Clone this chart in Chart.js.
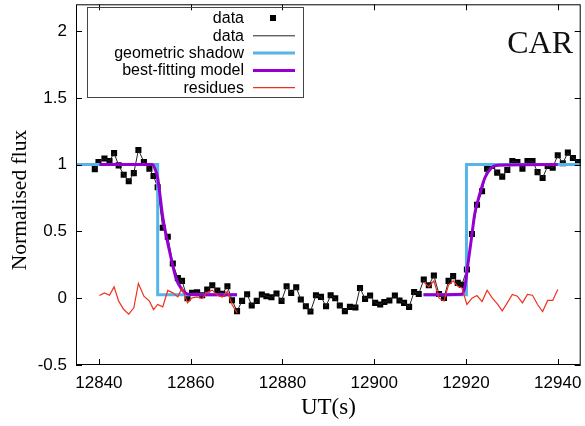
<!DOCTYPE html>
<html>
<head>
<meta charset="utf-8">
<script src="https://cdn.jsdelivr.net/npm/chart.js@4.4.1/dist/chart.umd.min.js"></script>
<style>
  html, body { margin: 0; padding: 0; background: #fff; }
  #wrap { width: 585px; height: 426px; }
</style>
</head>
<body>
<div id="wrap"><canvas id="lc" width="585" height="426"></canvas></div>
<script>
// measured light curve
const obsTime = [12839.1, 12839.9, 12841.2, 12842.3, 12843.3, 12844.3, 12845.4, 12846.5, 12847.6, 12848.6,
  12849.8, 12851.0, 12851.9, 12852.8, 12853.9, 12855.0, 12856.1, 12857.2, 12858.1, 12859.3,
  12860.3, 12861.4, 12862.5, 12863.6, 12864.7, 12865.8, 12866.9, 12868.0, 12869.0, 12870.1,
  12871.2, 12872.3, 12873.3, 12874.4, 12875.5, 12876.5, 12877.6, 12878.7, 12879.8, 12880.9,
  12881.9, 12883.0, 12884.0, 12885.1, 12886.1, 12887.3, 12888.4, 12889.5, 12890.5, 12891.5,
  12892.5, 12893.6, 12894.7, 12895.9, 12896.9, 12898.0, 12899.1, 12900.2, 12901.3, 12902.2,
  12903.3, 12904.5, 12905.5, 12906.5, 12907.6, 12908.7, 12909.7, 12910.8, 12911.9, 12913.0,
  12914.1, 12915.2, 12916.2, 12917.2, 12918.2, 12919.1, 12920.2, 12921.3, 12922.4, 12923.5,
  12924.6, 12925.7, 12926.8, 12927.9, 12929.0, 12930.1, 12931.2, 12932.3, 12933.4, 12934.5,
  12935.6, 12936.7, 12937.8, 12938.9, 12940.0, 12941.1, 12942.2, 12943.3, 12944.4];
const obsFlux = [0.966, 1.02, 1.046, 1.026, 1.086, 0.994, 0.924, 0.876, 0.936, 1.11,
  1.02, 0.97, 0.915, 0.83, 0.527, 0.46, 0.26, 0.15, 0.13, 0.0,
  0.04, 0.045, 0.022, 0.065, 0.097, 0.058, 0.033, 0.09, -0.015, -0.097,
  -0.02, 0.03, -0.055, -0.02, 0.028, 0.015, 0.007, 0.035, -0.02, 0.09,
  0.04, 0.082, -0.01, -0.06, -0.1, 0.022, 0.01, -0.06, 0.022, 0.0,
  -0.055, -0.097, -0.065, -0.07, 0.077, -0.005, 0.02, -0.035, -0.047, -0.028,
  -0.017, 0.02, -0.017, -0.035, -0.065, 0.047, 0.032, 0.14, 0.097, 0.17,
  0.032, 0.002, 0.13, 0.165, 0.115, 0.1, 0.215, 0.48, 0.7, 0.8,
  0.97, 0.99, 0.94, 0.91, 0.96, 1.026, 1.02, 0.97, 1.026, 1.026,
  0.944, 0.9, 0.99, 0.976, 1.07, 1.01, 1.09, 1.05, 1.02];

// geometric shadow (null breaks the line)
const shadowTime = [12835, 12852.8, 12852.8, 12870.1, 12890, 12910.6, 12920.1, 12920.1, 12945];
const shadowFlux = [1, 1, 0.025, 0.025, null, 0.025, 0.025, 1, 1];

// best-fitting model
const modelTime = [12840.1, 12851.6, 12852.2, 12852.8, 12853.9, 12855.4, 12856.8, 12858.0, 12858.8, 12860.0, 12870.1,
  12890,
  12910.8, 12919.1, 12919.7, 12920.4, 12921.2, 12921.9, 12923.0, 12924.1, 12925.5, 12927.0, 12940.0];
const modelFlux = [1, 1, 0.97, 0.9, 0.61, 0.35, 0.15, 0.07, 0.04, 0.027, 0.025,
  null,
  0.025, 0.03, 0.077, 0.25, 0.45, 0.63, 0.78, 0.9, 0.975, 0.995, 1];

// residues
const resTime = [12840.1, 12841.2, 12842.3, 12843.3, 12844.3, 12845.4, 12846.5, 12847.6, 12848.6, 12849.8,
  12851.0, 12851.9, 12852.8, 12853.9, 12855.0, 12856.1, 12857.2, 12858.1, 12859.3, 12860.3,
  12861.4, 12862.5, 12863.6, 12864.7, 12865.8, 12866.9, 12868.0, 12869.0, 12870.1,
  12890,
  12910.8, 12911.9, 12913.0, 12914.1, 12915.2, 12916.2, 12917.2, 12918.2, 12919.1, 12920.2,
  12921.3, 12922.4, 12923.5, 12924.6, 12925.7, 12926.8, 12927.9, 12929.0, 12930.1, 12931.2,
  12932.3, 12933.4, 12934.5, 12935.6, 12936.7, 12937.8, 12938.9, 12940.0];
const resFlux = [0.02, 0.04, 0.022, 0.085, -0.022, -0.085, -0.12, -0.072, 0.11, 0.015,
  -0.022, -0.085, -0.047, -0.065, 0.058, 0.04, 0.01, 0.077, -0.035, 0.003,
  0.01, -0.003, 0.045, 0.06, 0.022, 0.008, 0.052, -0.047, -0.11,
  null,
  0.12, 0.085, 0.13, 0.002, -0.022, 0.1, 0.13, 0.09, 0.077, -0.047,
  0.0, 0.02, -0.025, 0.06, 0.002, -0.04, -0.095, -0.035, 0.028, 0.015,
  -0.035, 0.028, 0.022, -0.047, -0.1, -0.017, -0.017, 0.065];

const xTicks = [12840, 12860, 12880, 12900, 12920, 12940];
const yTicks = [-0.5, 0, 0.5, 1, 1.5, 2];

const pairs = (xs, ys) => xs.map((x, i) => ({ x: x, y: ys[i] }));

const sans = '"Liberation Sans", Arial, sans-serif';
const serif = '"Liberation Serif", "Times New Roman", serif';

// gnuplot-like frame with inward ticks on all four sides
const frame = {
  id: 'frame',
  afterDatasetsDraw(chart) {
    const { ctx, chartArea: a, scales } = chart;
    ctx.save();
    ctx.strokeStyle = '#000';
    ctx.lineWidth = 1;
    ctx.beginPath();
    xTicks.forEach(v => {
      const px = Math.round(scales.x.getPixelForValue(v)) + 0.5;
      ctx.moveTo(px, a.bottom); ctx.lineTo(px, a.bottom - 6);
      ctx.moveTo(px, a.top); ctx.lineTo(px, a.top + 6);
    });
    yTicks.forEach(v => {
      const py = Math.round(scales.y.getPixelForValue(v)) + 0.5;
      ctx.moveTo(a.left, py); ctx.lineTo(a.left + 6, py);
      ctx.moveTo(a.right, py); ctx.lineTo(a.right - 6, py);
    });
    ctx.stroke();
    ctx.strokeRect(a.left + 0.5, a.top + 0.5, a.right - a.left - 1, a.bottom - a.top - 1);
    ctx.restore();
  }
};

// key box in the upper left, text right-aligned before the sample
const key = {
  id: 'key',
  afterDraw(chart) {
    const ctx = chart.ctx;
    ctx.save();
    ctx.strokeStyle = '#444';
    ctx.lineWidth = 1;
    ctx.strokeRect(87.5, 7.5, 216, 90);
    ctx.font = '16px ' + sans;
    ctx.textAlign = 'right';
    ctx.textBaseline = 'middle';
    ctx.fillStyle = '#000';
    chart.data.datasets.forEach((ds, i) => {
      const y = 18 + i * 17.3;
      ctx.fillText(ds.label, 244, y + 1);
      if (ds.pointRadius > 0) {
        ctx.fillStyle = ds.pointBackgroundColor;
        ctx.fillRect(270, y - 3, 6, 6);
        ctx.fillStyle = '#000';
      } else {
        ctx.strokeStyle = ds.borderColor;
        ctx.lineWidth = ds.borderWidth;
        ctx.beginPath();
        ctx.moveTo(253, y + 0.5); ctx.lineTo(295, y + 0.5);
        ctx.stroke();
      }
    });
    ctx.font = '32px ' + serif;
    ctx.textBaseline = 'alphabetic';
    ctx.fillStyle = '#111';
    ctx.fillText('CAR', 573, 53);

    // y axis label, sits a little below the middle of the frame
    ctx.translate(20, 200);
    ctx.rotate(-Math.PI / 2);
    ctx.font = '21.5px ' + serif;
    ctx.textAlign = 'center';
    ctx.textBaseline = 'middle';
    ctx.fillStyle = '#000';
    ctx.fillText('Normalised flux', 0, 0);
    ctx.restore();
  }
};

new Chart(document.getElementById('lc'), {
  type: 'line',
  data: {
    datasets: [
      { label: 'data', data: pairs(obsTime, obsFlux), showLine: false, pointStyle: 'rect',
        pointRadius: 4.3, pointBorderWidth: 0, pointBackgroundColor: '#000', borderColor: '#000', order: 5 },
      { label: 'data', data: pairs(obsTime, obsFlux), borderColor: '#222', borderWidth: 1,
        pointRadius: 0, order: 4 },
      { label: 'geometric shadow', data: pairs(shadowTime, shadowFlux), borderColor: '#56b4e9',
        borderWidth: 3, pointRadius: 0, order: 3 },
      { label: 'best-fitting model', data: pairs(modelTime, modelFlux), borderColor: '#9400d3',
        borderWidth: 3, pointRadius: 0, cubicInterpolationMode: 'monotone', order: 2 },
      { label: 'residues', data: pairs(resTime, resFlux), borderColor: '#f0301e',
        borderWidth: 1.2, pointRadius: 0, order: 1 }
    ]
  },
  options: {
    responsive: false,
    animation: false,
    layout: { padding: { top: 4, right: 4, left: 0, bottom: 0 } },
    plugins: { legend: { display: false }, tooltip: { enabled: false } },
    scales: {
      x: {
        type: 'linear', min: 12835, max: 12945,
        afterBuildTicks: s => { s.ticks = xTicks.map(v => ({ value: v })); },
        afterFit: s => { s.height = 61; s.paddingLeft = 0; s.paddingRight = 0; },
        grid: { display: false, drawTicks: false },
        border: { display: false },
        ticks: { callback: v => String(v), color: '#000', padding: 8, maxRotation: 0,
          font: { family: sans, size: 17 } },
        title: { display: true, text: 'UT(s)', color: '#000', padding: 4,
          font: { family: serif, size: 23 } }
      },
      y: {
        type: 'linear', min: -0.5, max: 2.2,
        afterBuildTicks: s => { s.ticks = yTicks.map(v => ({ value: v })); },
        afterFit: s => { s.width = 76; s.paddingTop = 0; s.paddingBottom = 0; },
        grid: { display: false, drawTicks: false },
        border: { display: false },
        ticks: { callback: v => String(v), color: '#000', padding: 9,
          font: { family: sans, size: 17 } }
      }
    }
  },
  plugins: [frame, key]
});
</script>
</body>
</html>
